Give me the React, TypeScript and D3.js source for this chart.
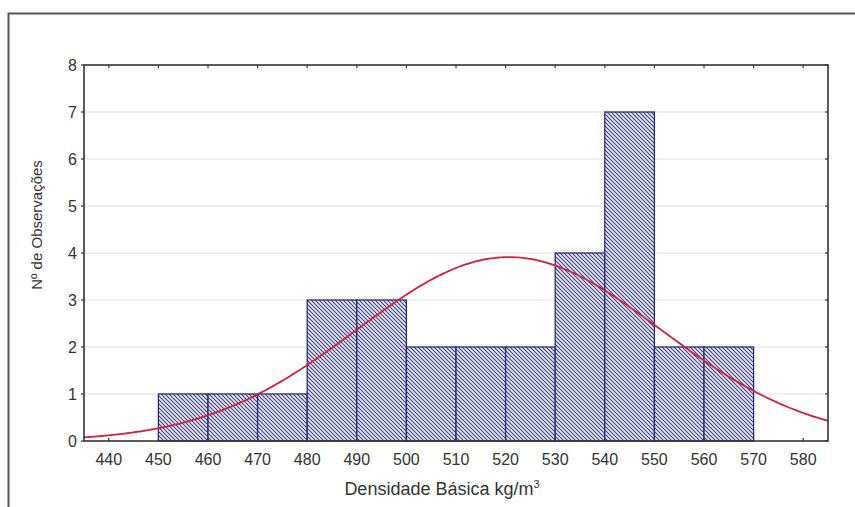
import React, { useEffect, useRef } from 'react';
import * as d3 from 'd3';

// bin edges (kg/m3) and observed counts
const binStarts = [450, 460, 470, 480, 490, 500, 510, 520, 530, 540, 550, 560];
const binWidth = 10;
const counts = [1, 1, 1, 3, 3, 2, 2, 2, 4, 7, 2, 2];
const xTicks = [440, 450, 460, 470, 480, 490, 500, 510, 520, 530, 540, 550, 560, 570, 580];
const yTicks = [0, 1, 2, 3, 4, 5, 6, 7, 8];

const App = () => {
  const svgRef = useRef<SVGSVGElement>(null);

  useEffect(() => {
    const svg = d3.select(svgRef.current);
    svg.selectAll('*').remove();

    const width = 855;
    const height = 507;
    const margin = { top: 65, right: 27, bottom: 66, left: 84 };
    const innerW = width - margin.left - margin.right;
    const innerH = height - margin.top - margin.bottom;
    const font = 'Arial, "Liberation Sans", sans-serif';

    // outer frame of the figure
    svg.append('rect')
      .attr('x', 8.5)
      .attr('y', 13.5)
      .attr('width', 1000)
      .attr('height', 1000)
      .attr('fill', 'none')
      .attr('stroke', '#555')
      .attr('stroke-width', 2);

    const defs = svg.append('defs');
    const pat = defs.append('pattern')
      .attr('id', 'hatch')
      .attr('patternUnits', 'userSpaceOnUse')
      .attr('width', 4)
      .attr('height', 4);
    pat.append('rect').attr('width', 4).attr('height', 4).attr('fill', '#eef0f8');
    pat.append('path')
      .attr('d', 'M-1,-1 L5,5 M3,-1 L5,1 M-1,3 L1,5')
      .attr('stroke', '#3b3b86')
      .attr('stroke-width', 1.1);

    const x = d3.scaleLinear().domain([435, 585]).range([0, innerW]);
    const y = d3.scaleLinear().domain([0, 8]).range([innerH, 0]);

    const g = svg.append('g')
      .attr('transform', `translate(${margin.left},${margin.top})`);

    // horizontal grid
    g.selectAll('.grid')
      .data(yTicks.slice(1, -1))
      .enter()
      .append('line')
      .attr('x1', 0)
      .attr('x2', innerW)
      .attr('y1', d => y(d))
      .attr('y2', d => y(d))
      .attr('stroke', '#e2e2e2')
      .attr('stroke-width', 1);

    // bars
    g.selectAll('.bar')
      .data(binStarts)
      .enter()
      .append('rect')
      .attr('x', d => x(d))
      .attr('y', (d, i) => y(counts[i]))
      .attr('width', d => x(d + binWidth) - x(d))
      .attr('height', (d, i) => innerH - y(counts[i]))
      .attr('fill', 'url(#hatch)')
      .attr('stroke', '#2a2a78')
      .attr('stroke-width', 1.3);

    // fitted normal curve (from binned data)
    const n = d3.sum(counts);
    const mids = binStarts.map(b => b + binWidth / 2);
    const mean = d3.sum(mids, (m, i) => m * counts[i]) / n;
    const sd = Math.sqrt(d3.sum(mids, (m, i) => counts[i] * (m - mean) ** 2) / (n - 1));
    const xs = d3.range(435, 585.5, 0.5);
    const curve = d3.line<number>()
      .x(d => x(d))
      .y(d => y(n * binWidth * Math.exp(-0.5 * ((d - mean) / sd) ** 2) / (sd * Math.sqrt(2 * Math.PI))))
      .curve(d3.curveBasis);
    g.append('path')
      .datum(xs)
      .attr('d', curve)
      .attr('fill', 'none')
      .attr('stroke', '#d3203c')
      .attr('stroke-width', 1.8);

    // axes box
    g.append('rect')
      .attr('width', innerW)
      .attr('height', innerH)
      .attr('fill', 'none')
      .attr('stroke', '#333')
      .attr('stroke-width', 1.6);

    const tickG = g.append('g').attr('stroke', '#333').attr('stroke-width', 1.2);
    xTicks.forEach(t => {
      tickG.append('line').attr('x1', x(t)).attr('x2', x(t)).attr('y1', innerH).attr('y2', innerH - 3);
      tickG.append('line').attr('x1', x(t)).attr('x2', x(t)).attr('y1', 0).attr('y2', 3);
    });
    yTicks.forEach(t => {
      tickG.append('line').attr('x1', 0).attr('x2', -3).attr('y1', y(t)).attr('y2', y(t));
      tickG.append('line').attr('x1', innerW).attr('x2', innerW - 3).attr('y1', y(t)).attr('y2', y(t));
    });

    g.selectAll('.xlab')
      .data(xTicks)
      .enter()
      .append('text')
      .attr('x', d => x(d))
      .attr('y', innerH + 24)
      .attr('text-anchor', 'middle')
      .style('font-family', font)
      .style('font-size', '16px')
      .style('fill', '#333')
      .text(d => d);

    g.selectAll('.ylab')
      .data(yTicks)
      .enter()
      .append('text')
      .attr('x', -7)
      .attr('y', d => y(d) + 6)
      .attr('text-anchor', 'end')
      .style('font-family', font)
      .style('font-size', '16px')
      .style('fill', '#333')
      .text(d => d);

    // axis titles
    const xt = svg.append('text')
      .attr('x', 442)
      .attr('y', 495)
      .attr('text-anchor', 'middle')
      .style('font-family', font)
      .style('font-size', '18px')
      .style('fill', '#333');
    xt.append('tspan').text('Densidade Básica kg/m');
    xt.append('tspan').attr('dy', -7).style('font-size', '11px').text('3');

    svg.append('text')
      .attr('transform', 'translate(42,225) rotate(-90)')
      .attr('text-anchor', 'middle')
      .style('font-family', font)
      .style('font-size', '15px')
      .style('fill', '#333')
      .text('Nº de Observações');
  }, []);

  return (
    <svg
      ref={svgRef}
      width={855}
      height={507}
      style={{ position: 'absolute', left: 0, top: 0, background: '#fff' }}
    />
  );
};

export default App;
